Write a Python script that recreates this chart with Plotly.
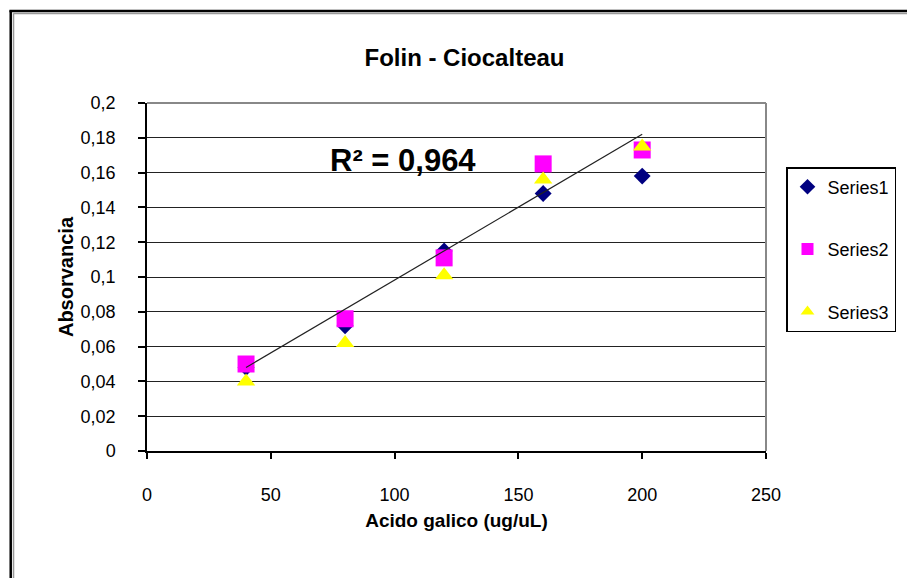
import numpy as np
import plotly.graph_objects as go

x_vals = [40, 80, 120, 160, 200]
series1 = [0.048, 0.072, 0.115, 0.148, 0.158]
series2 = [0.050, 0.076, 0.111, 0.165, 0.173]
series3 = [0.040, 0.062, 0.101, 0.156, 0.175]
series_names = ["Series1", "Series2", "Series3"]
r2_label = "R² = 0,964"
title_text = "Folin - Ciocalteau"
x_title = "Acido galico (ug/uL)"
y_title = "Absorvancia"

W, H = 907, 578
L, R, T, B = 147, 767, 103, 451  # plot area in pixels


def px_x(p):
    return (p - L) / (R - L)


def px_y(p):
    return (B - p) / (B - T)


fig = go.Figure()
fig.add_trace(go.Scatter(x=x_vals, y=series1, mode="markers", name=series_names[0],
                         legendgroup="a",
                         marker=dict(symbol="diamond", size=13, color="#000080")))
fig.add_trace(go.Scatter(x=x_vals, y=series2, mode="markers", name=series_names[1],
                         legendgroup="b",
                         marker=dict(symbol="square", size=17, color="#FF00FF")))
fig.add_trace(go.Scatter(x=x_vals, y=series3, mode="markers", name=series_names[2],
                         legendgroup="c",
                         marker=dict(symbol="triangle-up", size=16, color="#FFFF00")))

# linear trend line fitted to Series2
slope, intercept = np.polyfit(x_vals, series2, 1)
tx = np.array([min(x_vals), max(x_vals)])
fig.add_trace(go.Scatter(x=tx, y=slope * tx + intercept, mode="lines", showlegend=False,
                         line=dict(color="#222222", width=1.2)))

shapes = [
    # plot-area frame top and right (grey)
    dict(type="line", xref="paper", yref="paper", x0=0, x1=1, y0=1, y1=1,
         line=dict(color="#888888", width=2)),
    dict(type="line", xref="paper", yref="paper", x0=1, x1=1, y0=0, y1=1,
         line=dict(color="#888888", width=2)),
    # outer chart border (double line left/top)
    dict(type="line", xref="paper", yref="paper", x0=px_x(10.5), x1=px_x(10.5),
         y0=px_y(10.5), y1=px_y(600), line=dict(color="#000000", width=2.5)),
    dict(type="line", xref="paper", yref="paper", x0=px_x(13.3), x1=px_x(13.3),
         y0=px_y(13.3), y1=px_y(600), line=dict(color="#999999", width=1.5)),
    dict(type="line", xref="paper", yref="paper", x0=px_x(9.2), x1=px_x(930),
         y0=px_y(11), y1=px_y(11), line=dict(color="#000000", width=2.5)),
    dict(type="line", xref="paper", yref="paper", x0=px_x(13.3), x1=px_x(930),
         y0=px_y(13.6), y1=px_y(13.6), line=dict(color="#999999", width=1.5)),
]

fig.update_layout(
    width=W, height=H,
    margin=dict(l=L, r=W - R, t=T, b=H - B, pad=0),
    paper_bgcolor="white", plot_bgcolor="white",
    separators=",.",
    font=dict(family="Arial, Liberation Sans", color="#000000", size=18),
    title=dict(text=title_text, x=px_x(465), xanchor="center", xref="paper",
               y=1 - 58 / H, yanchor="middle",
               font=dict(family="Arial, Liberation Sans", size=24, color="#000000",
                         weight="bold")),
    xaxis=dict(range=[0, 250], dtick=50, tick0=0, showgrid=False, zeroline=False,
               showline=True, linecolor="#000000", linewidth=2,
               ticks="outside", ticklen=6, tickwidth=1.5, tickcolor="#000000",
               ticklabelstandoff=20,
               tickfont=dict(size=18),
               title=dict(text=x_title, standoff=10,
                          font=dict(size=19, weight="bold"))),
    yaxis=dict(range=[0, 0.2], dtick=0.02, tick0=0, showgrid=True,
               gridcolor="#222222", gridwidth=1.2, zeroline=False,
               showline=True, linecolor="#000000", linewidth=1.5,
               ticks="outside", ticklen=7, tickwidth=1.5, tickcolor="#000000",
               ticklabelstandoff=19,
               tickfont=dict(size=18),
               title=dict(text=y_title, standoff=2,
                          font=dict(size=20, weight="bold"))),
    legend=dict(x=px_x(786), y=px_y(167), xanchor="left", yanchor="top",
                bordercolor="#000000", borderwidth=1.5, bgcolor="white",
                font=dict(size=18), tracegroupgap=36, itemwidth=30,
                itemsizing="constant"),
    shapes=shapes,
    annotations=[dict(text=r2_label, x=103.5, y=0.167, xref="x", yref="y",
                      showarrow=False, xanchor="center", yanchor="middle",
                      font=dict(size=31, weight="bold", color="#000000"))],
)

fig.write_html("out.html")
